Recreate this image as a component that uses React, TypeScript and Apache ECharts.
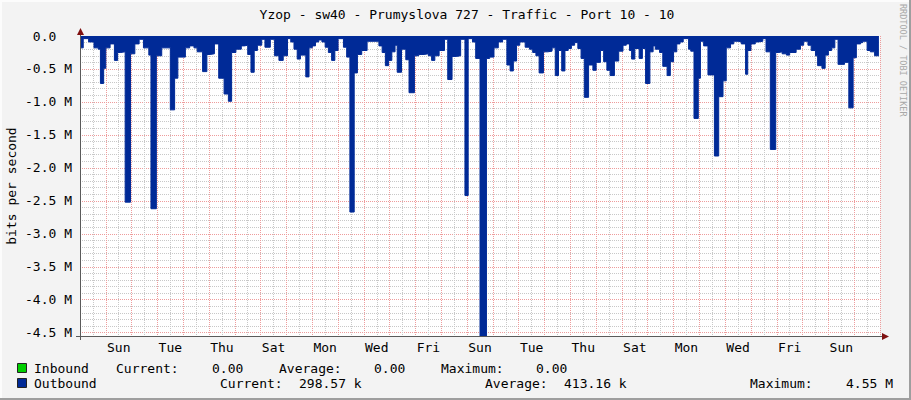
import React, { useEffect, useRef } from 'react';
import * as echarts from 'echarts';

const TITLE = 'Yzop - sw40 - Prumyslova 727 - Traffic - Port 10 - 10';
const Y_AXIS_NAME = 'bits per second';
const WATERMARK = 'RRDTOOL / TOBI OETIKER';

// x axis in hours from the start of the month view (31 days)
const X_MAX_HOURS = 744;
const DAY_LABELS = ['Sun', 'Tue', 'Thu', 'Sat', 'Mon', 'Wed', 'Fri', 'Sun', 'Tue', 'Thu', 'Sat', 'Mon', 'Wed', 'Fri', 'Sun'];
const LABEL_FIRST_HOUR = 36;
const LABEL_STEP_HOURS = 48;

// y axis in Mbit/s (outbound drawn downwards)
const Y_MAX_M = 4.55;

// Outbound traffic: [hour, Mbit/s], each value holds until the next hour
const outbound: [number, number][] = [
  [0, 0.18], [3, 0.04], [8, 0.09], [13, 0.18], [17, 0.2], [19, 0.72], [22, 0.49], [24, 0.18], [28, 0.12], [32, 0.37],
  [35, 0.25], [38, 0.24], [42, 2.52], [47, 0.27], [51, 0.12], [55, 0.05], [59, 0.18], [64, 0.29], [66, 2.62], [71, 0.3],
  [76, 0.18], [84, 1.12], [88, 0.64], [91, 0.32], [98, 0.18], [102, 0.15], [106, 0.18], [109, 0.24], [114, 0.54], [118, 0.28],
  [121, 0.27], [125, 0.12], [129, 0.64], [134, 0.88], [138, 0.99], [141, 0.25], [145, 0.2], [150, 0.15], [153, 0.14], [156, 0.28],
  [159, 0.55], [162, 0.22], [165, 0.14], [169, 0.05], [172, 0.17], [177, 0.05], [181, 0.3], [185, 0.37], [189, 0.3], [193, 0.04],
  [196, 0.09], [199, 0.2], [202, 0.35], [205, 0.29], [210, 0.62], [213, 0.18], [216, 0.15], [219, 0.09], [222, 0.06], [225, 0.09],
  [228, 0.17], [231, 0.25], [234, 0.37], [237, 0.22], [240, 0.04], [245, 0.17], [248, 0.32], [251, 2.67], [255, 0.56], [258, 0.28],
  [262, 0.22], [267, 0.08], [278, 0.15], [281, 0.25], [284, 0.45], [287, 0.37], [290, 0.24], [293, 0.14], [295, 0.55], [299, 0.2],
  [303, 0.36], [306, 0.86], [311, 0.3], [315, 0.28], [320, 0.27], [324, 0.3], [327, 0.37], [330, 0.3], [334, 0.22], [339, 0.05],
  [342, 0.66], [346, 0.31], [350, 0.3], [354, 0.05], [358, 2.42], [361, 0.04], [365, 0.09], [368, 0.34], [372, 4.55], [378, 0.34],
  [381, 0.32], [385, 0.18], [389, 0.09], [393, 0.05], [397, 0.44], [400, 0.53], [403, 0.38], [406, 0.14], [409, 0.09], [414, 0.17],
  [418, 0.2], [421, 0.25], [424, 0.3], [427, 0.56], [431, 0.24], [435, 0.23], [439, 0.18], [442, 0.6], [445, 0.22], [448, 0.53],
  [451, 0.22], [454, 0.19], [457, 0.14], [460, 0.1], [463, 0.19], [466, 0.34], [469, 0.93], [473, 0.44], [477, 0.52], [480, 0.4],
  [484, 0.22], [487, 0.39], [490, 0.52], [493, 0.6], [497, 0.38], [501, 0.23], [505, 0.14], [508, 0.12], [511, 0.22], [513, 0.35],
  [516, 0.19], [520, 0.34], [523, 0.19], [526, 0.72], [530, 0.24], [533, 0.15], [535, 0.2], [539, 0.25], [542, 0.46], [546, 0.6],
  [549, 0.39], [552, 0.24], [555, 0.12], [558, 0.09], [561, 0.04], [566, 0.2], [568, 0.23], [571, 1.25], [575, 0.64], [577, 0.08],
  [580, 0.15], [584, 0.59], [590, 1.82], [594, 0.92], [598, 0.68], [601, 0.18], [605, 0.12], [608, 0.08], [612, 0.09], [615, 0.12],
  [619, 0.58], [621, 0.22], [624, 0.12], [628, 0.09], [631, 0.08], [635, 0.04], [638, 0.24], [642, 1.72], [647, 0.25], [650, 0.24],
  [653, 0.27], [657, 0.29], [660, 0.25], [666, 0.2], [670, 0.14], [673, 0.08], [677, 0.14], [680, 0.22], [684, 0.3], [686, 0.45],
  [690, 0.49], [693, 0.29], [696, 0.22], [699, 0.18], [702, 0.05], [705, 0.43], [711, 0.4], [715, 1.09], [719, 0.33], [722, 0.12],
  [726, 0.1], [728, 0.08], [732, 0.22], [735, 0.24], [739, 0.3], [743, 0.3],
];

const STAT_NAMES = ['Current:', 'Average:', 'Maximum:'];
const INBOUND_STATS = ['0.00', '0.00', '0.00'];
const OUTBOUND_STATS = ['298.57 k', '413.16 k', '4.55 M'];

const MONO = '"DejaVu Sans Mono", monospace';
const OUT_COLOR = '#002A97';
const IN_COLOR = '#00CF00';
const GRID_GRAY = '#C8C8C8';
const GRID_RED = '#EE9C9C';
const AXIS_COLOR = '#5A5A5A';
const ARROW_COLOR = '#7F1010';

const txt = (text: string, x: number, y: number, extra: any = {}) => ({
  type: 'text',
  x,
  y,
  silent: true,
  style: {
    text,
    fill: '#000',
    fontFamily: MONO,
    fontSize: 13,
    textAlign: 'left',
    textVerticalAlign: 'middle',
    verticalAlign: 'middle',
    ...extra,
  },
});

export default function App() {
  const ref = useRef<HTMLDivElement>(null);

  useEffect(() => {
    document.body.style.margin = '0';
    if (!ref.current) return;
    const chart = echarts.init(ref.current, undefined, { renderer: 'svg' });

    const yColors = [GRID_RED, GRID_GRAY, GRID_GRAY, GRID_GRAY, GRID_GRAY];

    const graphic: any[] = [
      // frame shading
      { type: 'rect', shape: { x: 0, y: 0, width: 911, height: 2 }, style: { fill: '#FCFCFC' }, silent: true },
      { type: 'rect', shape: { x: 0, y: 0, width: 2, height: 400 }, style: { fill: '#FCFCFC' }, silent: true },
      { type: 'rect', shape: { x: 909, y: 0, width: 2, height: 400 }, style: { fill: '#9E9E9E' }, silent: true },
      { type: 'rect', shape: { x: 0, y: 398, width: 911, height: 2 }, style: { fill: '#9E9E9E' }, silent: true },
      // axis lines and arrows
      { type: 'line', shape: { x1: 76, y1: 336.5, x2: 884, y2: 336.5 }, style: { stroke: AXIS_COLOR, lineWidth: 1 }, silent: true, z: 10 },
      { type: 'line', shape: { x1: 80.5, y1: 340, x2: 80.5, y2: 32 }, style: { stroke: AXIS_COLOR, lineWidth: 1 }, silent: true, z: 10 },
      { type: 'polygon', shape: { points: [[77, 35], [84, 35], [80.5, 28]] }, style: { fill: ARROW_COLOR }, silent: true, z: 11 },
      { type: 'polygon', shape: { points: [[882, 333], [882, 340], [889, 336.5]] }, style: { fill: ARROW_COLOR }, silent: true, z: 11 },
      // watermark
      {
        type: 'text', x: 903, y: 4, rotation: -Math.PI / 2, silent: true,
        style: { text: WATERMARK, fill: '#A8A8A8', fontFamily: MONO, fontSize: 8.5, textAlign: 'left', textVerticalAlign: 'middle', verticalAlign: 'middle' },
      },
      // title
      txt(TITLE, 467, 14, { textAlign: 'center' }),
      // legend row 1
      { type: 'rect', shape: { x: 17.5, y: 363.5, width: 9, height: 9 }, style: { fill: IN_COLOR, stroke: '#222', lineWidth: 1 }, silent: true },
      txt('Inbound', 34, 368),
      txt(STAT_NAMES[0], 116, 368),
      txt(INBOUND_STATS[0], 212, 368),
      txt(STAT_NAMES[1], 279, 368),
      txt(INBOUND_STATS[1], 374, 368),
      txt(STAT_NAMES[2], 441, 368),
      txt(INBOUND_STATS[2], 536, 368),
      // legend row 2
      { type: 'rect', shape: { x: 17.5, y: 378.5, width: 9, height: 9 }, style: { fill: OUT_COLOR, stroke: '#222', lineWidth: 1 }, silent: true },
      txt('Outbound', 34, 383),
      txt(STAT_NAMES[0], 220, 383),
      txt(OUTBOUND_STATS[0], 299, 383),
      txt(STAT_NAMES[1], 485, 383),
      txt(OUTBOUND_STATS[1], 564, 383),
      txt(STAT_NAMES[2], 750, 383),
      txt(OUTBOUND_STATS[2], 893, 383, { textAlign: 'right' }),
    ];

    chart.setOption({
      animation: false,
      backgroundColor: '#F3F3F3',
      grid: {
        left: 80,
        top: 36,
        width: 800,
        height: 300,
        show: true,
        backgroundColor: '#FFFFFF',
        borderWidth: 0,
        containLabel: false,
        outerBoundsMode: 'none',
      },
      xAxis: {
        type: 'value',
        min: 0,
        max: X_MAX_HOURS,
        interval: 12,
        axisLine: { show: false, onZero: false },
        axisTick: { show: false },
        axisLabel: {
          margin: 5,
          color: '#000',
          fontFamily: MONO,
          fontSize: 13,
          formatter: (v: number) => {
            const k = (v - LABEL_FIRST_HOUR) / LABEL_STEP_HOURS;
            if (v >= LABEL_FIRST_HOUR && Number.isInteger(k) && k < DAY_LABELS.length) return DAY_LABELS[k];
            return '';
          },
        },
        splitLine: {
          show: true,
          lineStyle: { color: [GRID_RED, GRID_GRAY], width: 1, type: [1, 1] },
        },
      },
      yAxis: {
        type: 'value',
        inverse: true,
        min: 0,
        max: Y_MAX_M,
        interval: 0.1,
        name: Y_AXIS_NAME,
        nameLocation: 'middle',
        nameRotate: 90,
        nameGap: 62,
        nameMoveOverlap: false,
        nameTextStyle: { color: '#000', fontFamily: MONO, fontSize: 13 },
        axisLine: { show: false },
        axisTick: { show: false },
        axisLabel: {
          margin: 8,
          color: '#000',
          fontFamily: MONO,
          fontSize: 13,
          formatter: (v: number) => {
            const t = Math.round(v * 10);
            if (t % 5 !== 0) return '';
            if (t === 0) return '0.0\u00a0\u00a0';
            return '-' + (t / 10).toFixed(1) + ' M';
          },
        },
        splitLine: {
          show: true,
          lineStyle: { color: yColors, width: 1, type: [1, 1] },
        },
      },
      series: [
        {
          name: 'Outbound',
          type: 'line',
          step: 'end',
          data: outbound,
          symbol: 'none',
          showSymbol: false,
          silent: true,
          lineStyle: { color: OUT_COLOR, width: 1 },
          areaStyle: { color: OUT_COLOR, opacity: 1 },
          z: 3,
        },
      ],
      graphic,
    });

    return () => chart.dispose();
  }, []);

  return (
    <div
      ref={ref}
      style={{ position: 'fixed', left: 0, top: 0, width: 911, height: 400 }}
    />
  );
}
